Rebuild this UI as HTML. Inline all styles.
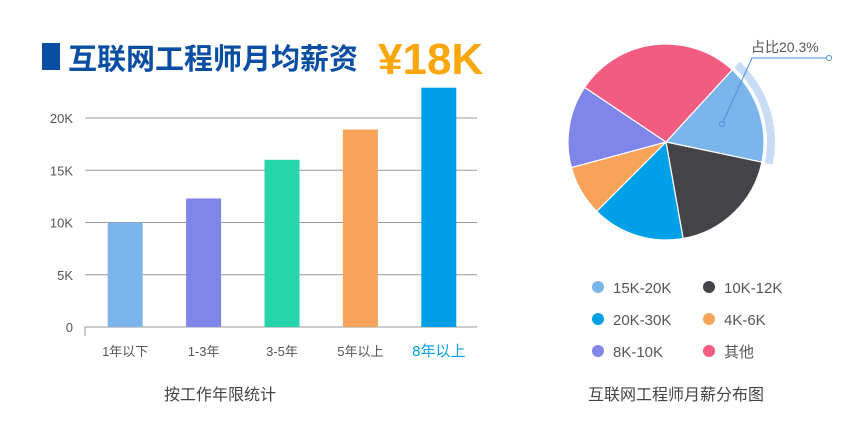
<!DOCTYPE html>
<html><head><meta charset="utf-8"><style>
body{margin:0;background:#fff;width:860px;height:430px;overflow:hidden;font-family:"Liberation Sans","Noto Sans CJK SC",sans-serif}
</style></head><body>
<svg width="860" height="430" style="position:absolute;left:0;top:0">
<rect x="42" y="43" width="18" height="27" fill="#0a4ea3"/>
<text x="68" y="69" font-size="29" font-weight="bold" fill="#0a4ea3" font-family="Liberation Sans,Noto Sans CJK SC,sans-serif">互联网工程师月均薪资</text>
<text x="378" y="74" font-size="44" font-weight="bold" fill="#f9a70b" font-family="Liberation Sans,Noto Sans CJK SC,sans-serif">¥18K</text>
<g id="bars"></g>
<g id="pie"></g>
<text x="220" y="400" font-size="16" fill="#444" text-anchor="middle">按工作年限统计</text>
<text x="676" y="400" font-size="16" fill="#444" text-anchor="middle">互联网工程师月薪分布图</text>
</svg>
<script>
const barCategories=["1年以下","1-3年","3-5年","5年以上","8年以上"];
const barValues=[10000,12300,16000,18900,22900];
const barColors=["#7cb5ec","#8085e9","#26d5a9","#f7a35c","#00a0e9"];
const yTicks=[0,5000,10000,15000,20000];
const yTickLabels=["0","5K","10K","15K","20K"];
const pieCategories=["15K-20K","10K-12K","20K-30K","4K-6K","8K-10K","其他"];
const pieValues=[16.5,18.9,15.3,8.3,13.6,27.4];
const pieColors=["#7cb5ec","#434348","#00a0e9","#f7a35c","#8085e9","#f15c80"];
const highlightLabel="占比20.3%";
const NS="http://www.w3.org/2000/svg";
function mk(tag,attrs,parent){const e=document.createElementNS(NS,tag);for(const k in attrs)e.setAttribute(k,attrs[k]);parent.appendChild(e);return e;}
const bars=document.getElementById('bars');
const x0=85,x1=477,yBase=327,yTop=118,maxV=20000;
const y=v=>yBase-(v/maxV)*(yBase-yTop);
const band=(x1-x0)/barCategories.length;
yTicks.forEach((t,i)=>{
  if(t>0){const l=mk('line',{x1:x0,x2:x1,y1:y(t),y2:y(t),stroke:'#999','stroke-width':1},bars);
  
  }
  const tx=mk('text',{x:x0-12,y:y(t)+5,'font-size':13,fill:'#555','text-anchor':'end'},bars);
  tx.textContent=yTickLabels[i];
  
  
});
const ax=mk('path',{d:`M${x0} 336V${yBase}H${x1}`,stroke:'#999',fill:'none'},bars);


barCategories.forEach((c,i)=>{
  const cx=x0+band*(i+0.5)+1;
  const r=mk('rect',{x:cx-17.5,y:y(barValues[i]),width:35,height:yBase-y(barValues[i]),fill:barColors[i]},bars);
  
  
  const last=i===barCategories.length-1;
  const t=mk('text',{x:cx,y:356,'font-size':last?15:13,fill:last?'#00a0e9':'#555','text-anchor':'middle'},bars);
  t.textContent=c;
  
  
});
const pie=document.getElementById('pie');
const cx=666,cy=142,R=98;
const total=pieValues.reduce((a,b)=>a+b,0);
let a=-47.5*Math.PI/180;
const pt=(ang,r)=>[cx+r*Math.cos(ang),cy+r*Math.sin(ang)];
pieValues.forEach((v,i)=>{
  const s=a,e=a+v/total*2*Math.PI;a=e;
  const large=e-s>Math.PI?1:0;
  const [sx,sy]=pt(s,R),[ex,ey]=pt(e,R);
  if(i===0){
    const [a1,b1]=pt(s,101),[a2,b2]=pt(e,101),[a3,b3]=pt(e,109),[a4,b4]=pt(s,109);
    const h=mk('path',{d:`M${a1} ${b1}A101 101 0 ${large} 1 ${a2} ${b2}L${a3} ${b3}A109 109 0 ${large} 0 ${a4} ${b4}Z`,fill:'#c8ddf5'},pie);
    
    
  }
  const p=mk('path',{d:`M${cx} ${cy}L${sx} ${sy}A${R} ${R} 0 ${large} 1 ${ex} ${ey}Z`,fill:pieColors[i],stroke:'#fff','stroke-width':1.2},pie);
  
  
  if(i===0){
    const m=(s+e)/2;const [lx,ly]=pt(m,R*0.6);
    const ln=mk('path',{d:`M${lx} ${ly}L752 58H829`,stroke:'#4a90d9',fill:'none','stroke-width':1},pie);
    
    
    mk('circle',{cx:lx,cy:ly,r:2.5,fill:'#7cb5ec',stroke:'#4a90d9'},pie);
    mk('circle',{cx:829,cy:58,r:2.5,fill:'#fff',stroke:'#4a90d9'},pie);
    const t=mk('text',{x:751,y:52,'font-size':14,fill:'#555'},pie);
    t.textContent=highlightLabel;
    
    
  }
});
pieCategories.forEach((c,i)=>{
  const col=i%2,row=Math.floor(i/2);
  const lx=598+col*111,ly=287+row*32;
  const d=mk('circle',{cx:lx,cy:ly,r:6,fill:pieColors[i]},pie);
  
  
  const t=mk('text',{x:lx+15,y:ly+6,'font-size':15,fill:'#555'},pie);
  t.textContent=c;
  
  
});
</script>
</body></html>
